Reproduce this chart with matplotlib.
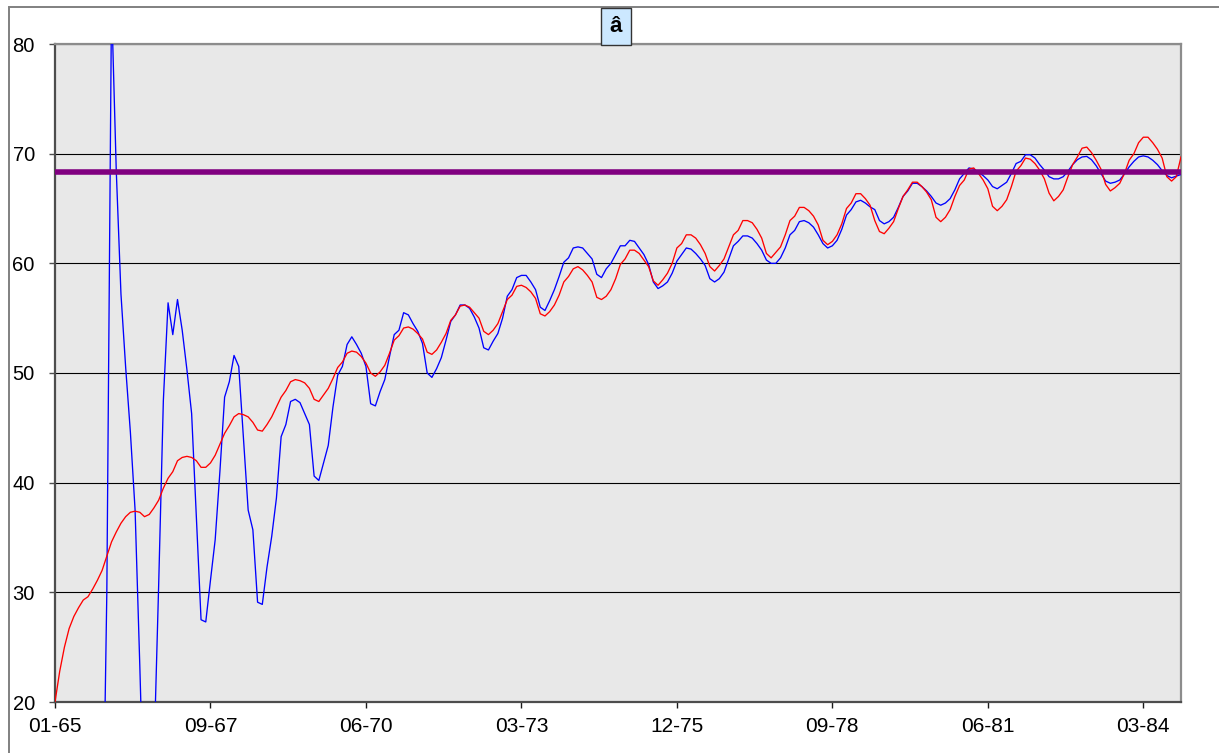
import numpy as np
import matplotlib.pyplot as plt
import matplotlib.patches as mpatches

plt.rcParams["font.family"] = ["Liberation Sans", "DejaVu Sans"]

# monthly series, Jan 1965 onwards (one value per month)
red_vals = [
    20.0, 22.8, 25.0, 26.7, 27.8, 28.6, 29.3, 29.6, 30.3, 31.1,
    32.0, 33.3, 34.6, 35.5, 36.3, 36.9, 37.3, 37.4, 37.3, 36.9,
    37.1, 37.7, 38.4, 39.5, 40.4, 41.0, 42.0, 42.3, 42.4, 42.3,
    42.0, 41.4, 41.4, 41.8, 42.5, 43.5, 44.5, 45.2, 46.0, 46.3,
    46.2, 46.0, 45.5, 44.8, 44.7, 45.3, 46.0, 46.9, 47.8, 48.4,
    49.2, 49.4, 49.3, 49.1, 48.6, 47.6, 47.4, 48.0, 48.6, 49.5,
    50.5, 51.0, 51.8, 52.0, 51.9, 51.5, 50.9, 50.0, 49.7, 50.1,
    50.7, 51.8, 53.0, 53.4, 54.1, 54.2, 54.0, 53.6, 53.1, 51.9,
    51.7, 52.1, 52.8, 53.6, 54.8, 55.3, 56.1, 56.2, 56.0, 55.5,
    55.0, 53.8, 53.5, 53.9, 54.5, 55.6, 56.7, 57.1, 57.9, 58.0,
    57.8, 57.4, 56.8, 55.4, 55.2, 55.6, 56.2, 57.1, 58.3, 58.8,
    59.5, 59.7, 59.4, 58.9, 58.3, 56.9, 56.7, 57.0, 57.6, 58.6,
    59.9, 60.4, 61.2, 61.2, 60.9, 60.3, 59.7, 58.4, 58.0, 58.5,
    59.1, 60.0, 61.4, 61.8, 62.6, 62.6, 62.3, 61.7, 60.9, 59.7,
    59.3, 59.8, 60.4, 61.5, 62.6, 63.0, 63.9, 63.9, 63.7, 63.1,
    62.3, 60.9, 60.5, 61.0, 61.5, 62.6, 63.9, 64.3, 65.1, 65.1,
    64.8, 64.3, 63.5, 62.1, 61.7, 62.0, 62.6, 63.6, 65.0, 65.5,
    66.35, 66.35, 65.9, 65.3, 63.9, 62.9, 62.7, 63.2, 63.8, 65.0,
    66.1, 66.7, 67.4, 67.4, 67.0, 66.5, 65.8, 64.2, 63.8, 64.2,
    64.9, 66.1, 67.1, 67.6, 68.6, 68.7, 68.2, 67.6, 66.8, 65.2,
    64.8, 65.2, 65.8, 67.0, 68.4, 68.9, 69.6, 69.5, 69.1, 68.5,
    67.7, 66.4, 65.7, 66.1, 66.7, 67.9, 69.0, 69.7, 70.5, 70.6,
    70.1, 69.4, 68.6, 67.2, 66.6, 66.9, 67.3, 68.2, 69.4, 70.0,
    71.0, 71.5, 71.5, 71.0, 70.4, 69.6, 67.9, 67.5, 67.9, 69.7,
]

blue_vals = [
    5.0, 5.0, 5.0, 5.0, 5.0, 5.0, 5.0, 5.0, 5.0, 5.0,
    2.0, 30.0, 84.0, 68.5, 57.2, 50.5, 44.6, 37.5, 23.3, 8.0,
    5.0, 15.0, 30.6, 47.5, 56.4, 53.5, 56.7, 53.9, 50.3, 46.3,
    37.0, 27.5, 27.3, 31.1, 34.8, 41.0, 47.8, 49.2, 51.6, 50.6,
    44.0, 37.5, 35.7, 29.1, 28.9, 32.3, 35.1, 38.6, 44.2, 45.3,
    47.4, 47.6, 47.3, 46.3, 45.3, 40.6, 40.2, 41.8, 43.4, 46.9,
    49.8, 50.6, 52.6, 53.3, 52.6, 51.8, 50.6, 47.2, 47.0, 48.3,
    49.4, 51.5, 53.5, 53.9, 55.5, 55.3, 54.5, 53.8, 52.7, 50.0,
    49.6, 50.4, 51.4, 53.0, 54.7, 55.3, 56.2, 56.2, 55.9, 55.1,
    54.1, 52.3, 52.1, 52.9, 53.6, 55.0, 57.0, 57.6, 58.7, 58.9,
    58.9, 58.3, 57.6, 56.0, 55.7, 56.6, 57.6, 58.8, 60.1, 60.5,
    61.4, 61.5, 61.4, 60.9, 60.4, 59.0, 58.7, 59.5, 60.0, 60.8,
    61.6, 61.6, 62.1, 62.0, 61.4, 60.8, 59.9, 58.3, 57.7, 57.95,
    58.3, 59.1, 60.2, 60.8, 61.4, 61.3, 60.9, 60.4, 59.8, 58.6,
    58.3, 58.6, 59.2, 60.4, 61.6, 62.0, 62.5, 62.5, 62.3, 61.8,
    61.2, 60.3, 60.0, 60.0, 60.5, 61.4, 62.6, 63.0, 63.8, 63.9,
    63.7, 63.3, 62.6, 61.8, 61.4, 61.6, 62.1, 63.1, 64.4, 64.9,
    65.6, 65.75, 65.5, 65.15, 64.9, 63.9, 63.6, 63.8, 64.2, 65.1,
    66.1, 66.6, 67.3, 67.3, 67.0, 66.6, 66.1, 65.5, 65.3, 65.5,
    65.9, 66.7, 67.7, 68.2, 68.7, 68.6, 68.3, 68.0, 67.6, 67.0,
    66.8, 67.1, 67.4, 68.2, 69.1, 69.3, 69.9, 69.9, 69.6, 69.0,
    68.5, 67.9, 67.7, 67.7, 67.9, 68.4, 69.0, 69.45, 69.7, 69.75,
    69.45, 68.9, 68.2, 67.5, 67.3, 67.4, 67.6, 68.15, 68.8, 69.3,
    69.7, 69.8, 69.7, 69.4, 69.0, 68.45, 68.0, 67.8, 67.95, 68.1,
]

target_level = 68.35

tick_months = [0, 33, 66, 99, 132, 165, 198, 231]
tick_labels = ["01-65", "09-67", "06-70", "03-73", "12-75", "09-78", "06-81", "03-84"]

W, H = 1219, 753
fig = plt.figure(figsize=(W / 100, H / 100), dpi=100)
fig.patch.set_facecolor("white")

# plot area in pixel coordinates: left 55, right 1181, top 44, bottom 702
ax = fig.add_axes([55 / W, (H - 702) / H, (1181 - 55) / W, (702 - 44) / H])
ax.set_facecolor("#e8e8e8")

months = np.arange(len(red_vals))
ax.plot(months, blue_vals, color="#0000ff", lw=0.95, zorder=3)
ax.plot(months, red_vals, color="#ff0000", lw=0.95, zorder=4)
ax.axhline(target_level, color="#800080", lw=4.0, zorder=5)

ax.set_xlim(0, len(red_vals) - 1)
ax.set_ylim(20, 80)
ax.set_yticks(range(20, 81, 10))
ax.set_xticks(tick_months)
ax.set_xticklabels(tick_labels)

ax.yaxis.grid(True, color="black", lw=0.8)
ax.xaxis.grid(False)

for side in ("left", "bottom"):
    ax.spines[side].set_color("#4d4d4d")
    ax.spines[side].set_linewidth(1.6)
for side in ("top", "right"):
    ax.spines[side].set_color("#8c8c8c")
    ax.spines[side].set_linewidth(1.6)

ax.tick_params(axis="y", direction="out", length=4.5, width=1.0, color="#4d4d4d",
               labelsize=14.5, pad=10)
ax.tick_params(axis="x", direction="out", length=4.5, width=1.0, color="#1a1a1a",
               labelsize=15, pad=6)

# outer chart frame
frame = mpatches.Rectangle((8.5 / W, -0.1), 1.2, 1.1 - 7.3 / H,
                           transform=fig.transFigure, fill=False,
                           edgecolor="#808080", lw=1.4, clip_on=False)
fig.add_artist(frame)

# title box
title_box = mpatches.Rectangle((601 / W, (H - 45) / H), 30 / W, 37.5 / H,
                               transform=fig.transFigure, facecolor="#cce8ff",
                               edgecolor="#333333", lw=1.0, zorder=6)
fig.add_artist(title_box)
fig.text(616 / W, (H - 27) / H, "â", ha="center", va="center",
         fontsize=16, fontweight="bold", zorder=7)

fig.savefig("out.png", dpi=100)
